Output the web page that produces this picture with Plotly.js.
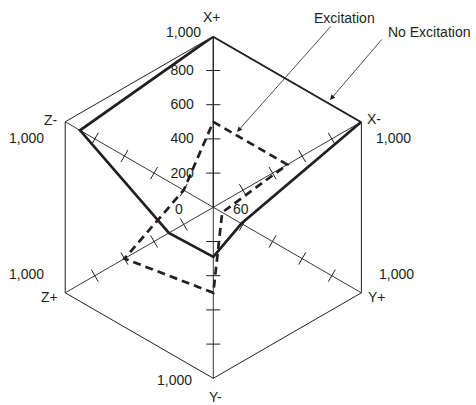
<!DOCTYPE html>
<html>
<head>
<meta charset="utf-8">
<script src="https://cdn.plot.ly/plotly-3.0.1.min.js"></script>
<style>html,body{margin:0;padding:0;background:#fff;}#chart{width:476px;height:405px;}</style>
</head>
<body>
<div id="chart"></div>
<script>
// ---- data ----
const categories = ['X+', 'X-', 'Y+', 'Y-', 'Z+', 'Z-'];
const noExcitation = [1000, 1000, 190, 290, 300, 900];
const excitation = [500, 500, 60, 500, 600, 200];
const tickValues = [200, 400, 600, 800];
const tickLabels = ['200', '400', '600', '800'];
const axisMax = 1000;
const maxLabel = '1,000';
const seriesNames = ['Excitation', 'No Excitation'];

// ---- build traces ----
const ink = '#231f20';
const W = 476, H = 405;
const px = x => x / W;
const py = y => 1 - y / H;

function closed(arr) { return arr.concat([arr[0]]); }

const tickR = [], tickTheta = [], tickAng = [];
categories.forEach((c, i) => {
  tickValues.forEach(v => {
    tickR.push(v); tickTheta.push(c); tickAng.push((60 * i) % 180);
  });
});

const traces = [
  {
    type: 'scatterpolar', mode: 'markers', r: tickR, theta: tickTheta,
    marker: {symbol: 'line-ew', size: 10, angle: tickAng, color: ink, line: {color: ink, width: 1}},
    hoverinfo: 'skip', showlegend: false
  },
  {
    type: 'scatterpolar', mode: 'lines', name: seriesNames[1],
    r: closed(noExcitation), theta: closed(categories),
    line: {color: ink, width: 2.7}, showlegend: false
  },
  {
    type: 'scatterpolar', mode: 'lines', name: seriesNames[0],
    r: closed(excitation), theta: closed(categories),
    line: {color: ink, width: 2.7, dash: '8px,5px'}, showlegend: false
  }
];

// ---- text labels ----
const font = {family: 'Liberation Sans, Arial, sans-serif', size: 14, color: ink};
const catPos = {
  'X+': [212, 17], 'X-': [374, 119], 'Y+': [377, 297],
  'Y-': [215, 397], 'Z+': [49, 297], 'Z-': [51, 120]
};
const maxPos = {
  'X+': [183, 32], 'X-': [393, 138], 'Y+': [396, 274],
  'Y-': [174, 380], 'Z+': [26, 274], 'Z-': [26, 138]
};
const annotations = [];
categories.forEach(c => {
  annotations.push({xref: 'paper', yref: 'paper', x: px(catPos[c][0]), y: py(catPos[c][1]),
    text: c, showarrow: false, font: font, xanchor: 'center', yanchor: 'middle'});
  annotations.push({xref: 'paper', yref: 'paper', x: px(maxPos[c][0]), y: py(maxPos[c][1]),
    text: maxLabel, showarrow: false, font: font, xanchor: 'center', yanchor: 'middle'});
});
annotations.push({xref: 'paper', yref: 'paper', x: px(179), y: py(209), text: '0',
  showarrow: false, font: font, xanchor: 'center', yanchor: 'middle'});
annotations.push({xref: 'paper', yref: 'paper', x: px(241), y: py(209), text: '60',
  showarrow: false, font: font, xanchor: 'center', yanchor: 'middle'});
// series callouts
annotations.push({xref: 'paper', yref: 'paper', x: px(344), y: py(18), text: seriesNames[0],
  showarrow: false, font: font, xanchor: 'center', yanchor: 'middle'});
annotations.push({xref: 'paper', yref: 'paper', x: px(429), y: py(32), text: seriesNames[1],
  showarrow: false, font: font, xanchor: 'center', yanchor: 'middle'});
annotations.push({xref: 'paper', yref: 'paper', x: px(237), y: py(132), text: '',
  showarrow: true, ax: 95, ay: -107, arrowhead: 2, arrowsize: 1.3, arrowwidth: 0.8, arrowcolor: ink});
annotations.push({xref: 'paper', yref: 'paper', x: px(330), y: py(100), text: '',
  showarrow: true, ax: 53, ay: -62, arrowhead: 2, arrowsize: 1.3, arrowwidth: 0.8, arrowcolor: ink});

const cx = 213.3, cy = 207.3, R = 171;
const layout = {
  width: W, height: H, autosize: false,
  margin: {l: 0, r: 0, t: 0, b: 0, pad: 0},
  paper_bgcolor: '#fff',
  showlegend: false,
  font: font,
  polar: {
    domain: {x: [px(cx - R), px(cx + R)], y: [py(cy + R), py(cy - R)]},
    bgcolor: 'rgba(0,0,0,0)',
    gridshape: 'linear',
    radialaxis: {
      range: [0, axisMax], angle: 90, side: 'counterclockwise',
      showgrid: false, showline: true, linecolor: ink, linewidth: 1.2,
      tickvals: tickValues, ticktext: tickLabels,
      ticks: 'outside', ticklen: 14, tickcolor: 'rgba(0,0,0,0)',
      tickfont: font, tickangle: 90
    },
    angularaxis: {
      type: 'category', categoryarray: categories, categoryorder: 'array',
      rotation: 90, direction: 'clockwise',
      showline: true, linecolor: ink, linewidth: 1,
      showgrid: true, gridcolor: ink, gridwidth: 0.9,
      ticks: '', showticklabels: false
    }
  },
  annotations: annotations
};

Plotly.newPlot('chart', traces, layout, {displayModeBar: false, staticPlot: true});
</script>
</body>
</html>
